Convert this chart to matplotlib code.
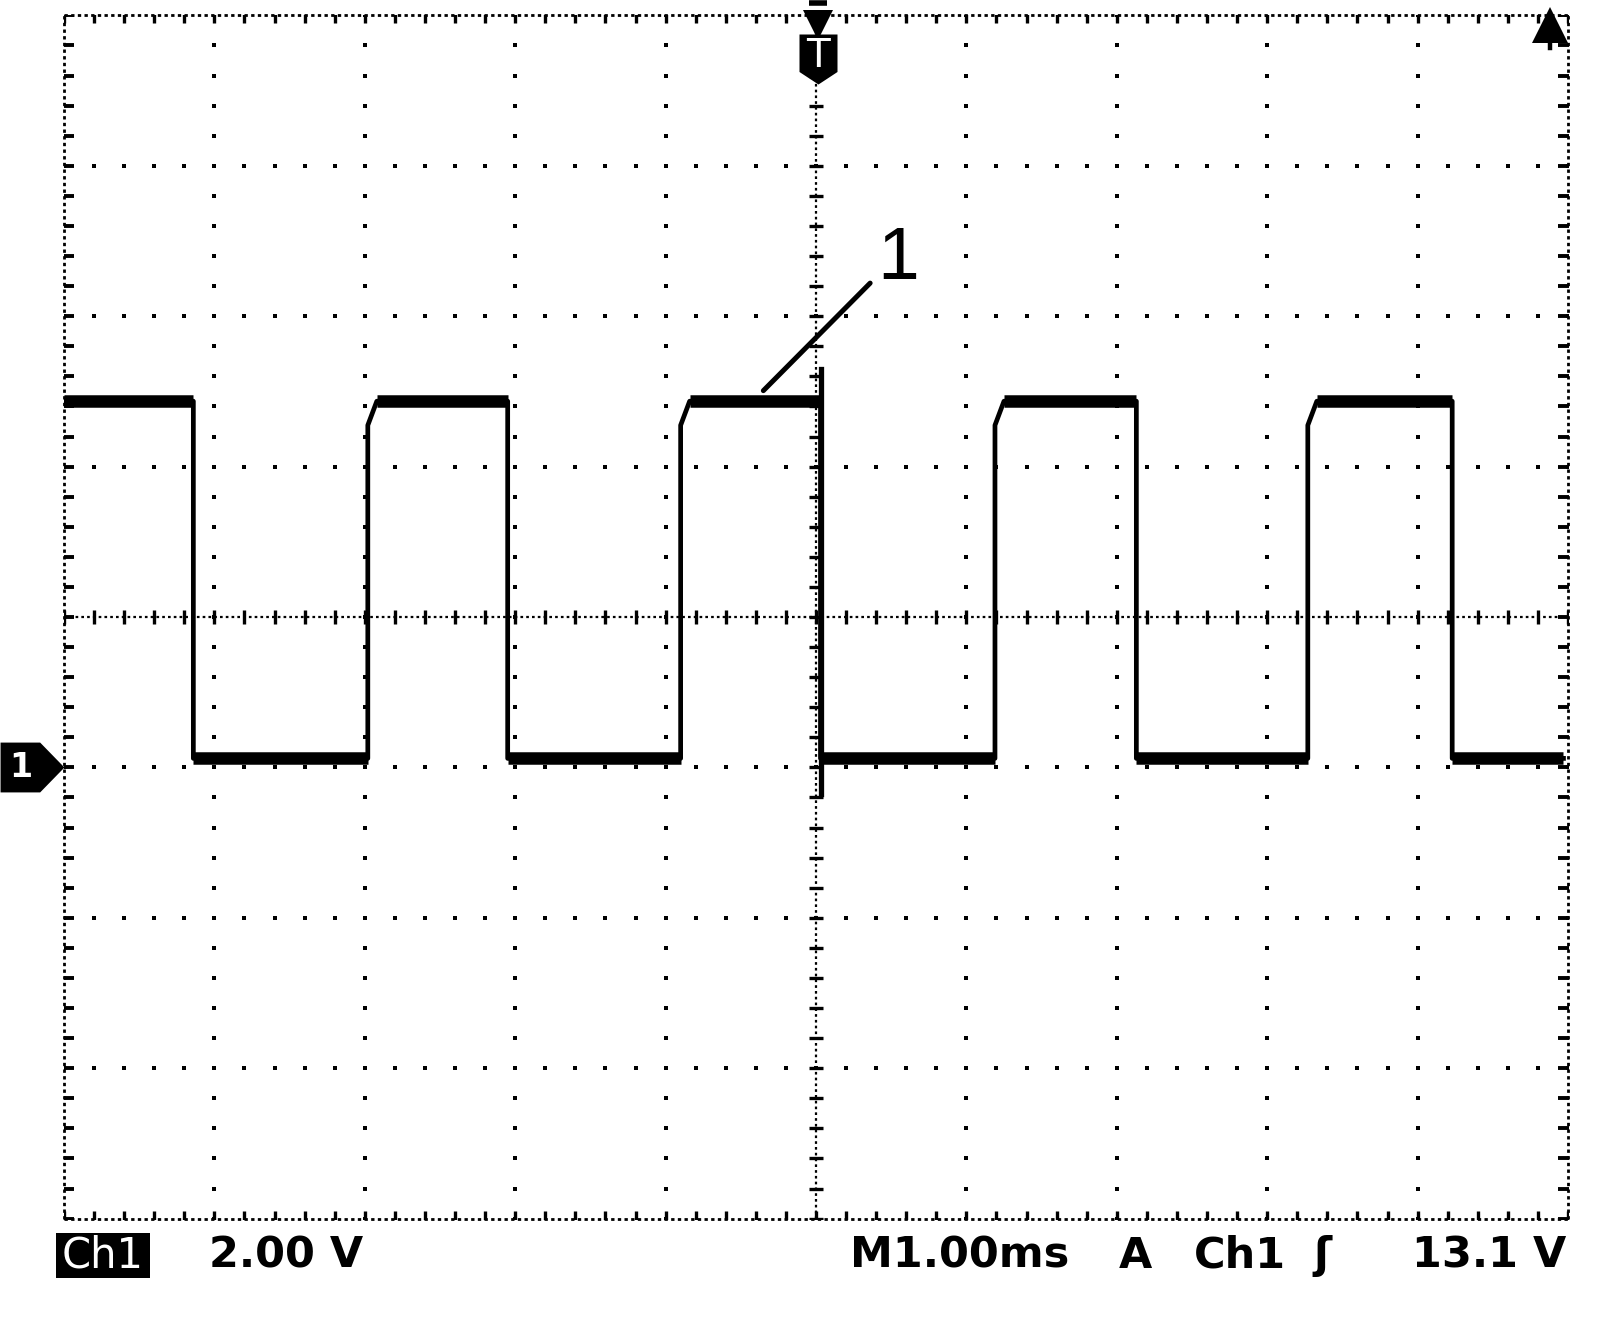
import numpy as np
import matplotlib
matplotlib.use("Agg")
import matplotlib.pyplot as plt
from matplotlib.path import Path
from matplotlib.patches import Rectangle

# ---- data (time in ms, voltage in V) ----
t_start = -5.0
t_end = 4.97
fall_ms = [-4.14, -2.05, 0.03, 2.13, 4.23]
rise_ms = [-2.98, -0.90, 1.19, 3.27]
v_high = 4.87
v_low = 0.12
v_knee = 4.55          # rising edge bends over here
settle_ms = 0.06       # rounding of the top corner after a rising edge
trig_top = 5.3         # trigger edge overshoots
trig_bottom = -0.35

volts_per_div = 2.0
ms_per_div = 1.0
trig_level = "13.1 V"

# ---- build trace ----
t = [t_start]
v = [v_high]
highs = []
lows = []
seg_start = t_start
for i, tf in enumerate(fall_ms):
    t += [tf, tf]
    v += [v_high, v_low]
    highs.append((seg_start, tf))
    if i < len(rise_ms):
        tr = rise_ms[i]
        t += [tr, tr, tr + settle_ms]
        v += [v_low, v_knee, v_high]
        lows.append((tf, tr))
        seg_start = tr + settle_ms
    else:
        t.append(t_end)
        v.append(v_low)
        lows.append((tf, t_end))

W, H = 1600, 1318
fig = plt.figure(figsize=(W / 100, H / 100), dpi=100)
ax = fig.add_axes([64 / W, 1 - 1218.6 / H, 1504 / W, 1203.2 / H])
ax.set_xlim(-5 * ms_per_div, 5 * ms_per_div)
ax.set_ylim(-6, 10)
ax.axis("off")

K = "black"
x0, x1 = -5, 5
y0, y1 = -6, 10
sub_x = np.arange(x0, x1 + 1e-9, 0.2)
sub_y = np.arange(y0, y1 + 1e-9, 0.4)

# graticule: ordinary grid lines as dots every 1/5 div
for gx in range(-4, 5):
    if gx == 0:
        continue
    ax.plot(np.full_like(sub_y, gx), sub_y, ls="none", marker="s", ms=3.0, color=K, mew=0)
for gy in np.arange(-4, 9, 2):
    if gy == 2:
        continue
    ax.plot(sub_x, np.full_like(sub_x, gy), ls="none", marker="s", ms=3.0, color=K, mew=0)

# centre cross lines: fine dotted + small cross ticks
ax.plot([0, 0], [y0, y1], color=K, lw=1.6, dashes=(1.2, 1.4))
ax.plot([x0, x1], [2, 2], color=K, lw=1.6, dashes=(1.2, 1.4))
ax.plot(np.zeros_like(sub_y), sub_y, ls="none", marker="_", ms=10, mew=2.4, color=K)
ax.plot(sub_x, np.full_like(sub_x, 2.0), ls="none", marker="|", ms=10, mew=2.4, color=K)

# border: dense dotted frame with inward ticks
for bx in (x0, x1):
    ax.plot([bx, bx], [y0, y1], color=K, lw=2.0, dashes=(1.2, 1.2), clip_on=False)
    ax.plot(np.full_like(sub_y, bx), sub_y, ls="none", marker="_", ms=14, mew=2.8, color=K)
for by in (y0, y1):
    ax.plot([x0, x1], [by, by], color=K, lw=2.0, dashes=(1.2, 1.2), clip_on=False)
    ax.plot(sub_x, np.full_like(sub_x, by), ls="none", marker="|", ms=12, mew=2.4, color=K)

# trace
ax.plot(t, v, color=K, lw=3.4, solid_joinstyle="round", zorder=5)
for a, b in highs:
    ax.plot([a, b], [v_high, v_high], color=K, lw=9, solid_capstyle="butt", zorder=5)
for a, b in lows:
    ax.plot([a, b], [v_low, v_low], color=K, lw=9, solid_capstyle="butt", zorder=5)
ax.plot([fall_ms[2], fall_ms[2]], [trig_bottom, trig_top], color=K, lw=3.8, zorder=5)

# label "1" with leader line
ax.plot([0.36, -0.35], [6.44, 5.01], color=K, lw=3.6, solid_capstyle="round", zorder=6)
ax.text(0.545, 6.76, "1", fontsize=54, family=["Liberation Sans", "DejaVu Sans"],
        ha="center", va="center", color=K)

# trigger position marker (T) at top
shield = Path([(-0.38, 0.5), (0.38, 0.5), (0.38, -0.25), (0.0, -0.5),
               (-0.38, -0.25), (-0.38, 0.5)], closed=True)
ax.plot([0.01], [9.415], marker=shield, ms=36, color=K, mew=0, clip_on=False, zorder=7)
ax.text(0.01, 9.46, "T", color="white", fontsize=28, ha="center", va="center", zorder=8)
ax.plot([0.01], [9.87], marker="v", ms=21, color=K, mew=0, clip_on=False, zorder=7)
ax.plot([0.01], [10.17], marker="_", ms=13, mew=4, color=K, clip_on=False)

# top right arrow
ax.plot([4.88], [9.87], marker="^", ms=26, color=K, mew=0, clip_on=False, zorder=7)
ax.plot([4.88, 4.88], [9.77, 9.56], color=K, lw=3.2, zorder=7)

# channel 1 ground marker at the left
gnd = Path([(-0.5, -0.39), (0.12, -0.39), (0.5, 0.0), (0.12, 0.39),
            (-0.5, 0.39), (-0.5, -0.39)], closed=True)
ax.plot([-5.213], [0.0], marker=gnd, ms=46, color=K, mew=0, clip_on=False, zorder=7)
ax.text(-5.29, 0.0, "1", color="white", fontsize=24, fontweight="bold",
        ha="center", va="center", clip_on=False, zorder=8)

# status line under the screen
def fy(py):
    return 1 - py / H

fig.add_artist(Rectangle((56 / W, fy(1278)), 94 / W, 45 / H, transform=fig.transFigure,
                         facecolor=K, edgecolor="none"))
fig.text(103 / W, fy(1256), "Ch1", color="white", fontsize=30, ha="center", va="center")
status = dict(fontsize=31, fontweight="bold", va="center", color=K)
fig.text(209 / W, fy(1256), f"{volts_per_div:.2f} V", ha="left", **status)
fig.text(850 / W, fy(1256), f"M{ms_per_div:.2f}ms", ha="left", **status)
fig.text(1119 / W, fy(1256), "A", ha="left", **status)
fig.text(1194 / W, fy(1256), "Ch1", ha="left", **status)
fig.text(1322 / W, fy(1256), "ʃ", ha="center", **status)
fig.text(1566 / W, fy(1256), trig_level, ha="right", **status)

fig.savefig("out.png", dpi=100, facecolor="white")
